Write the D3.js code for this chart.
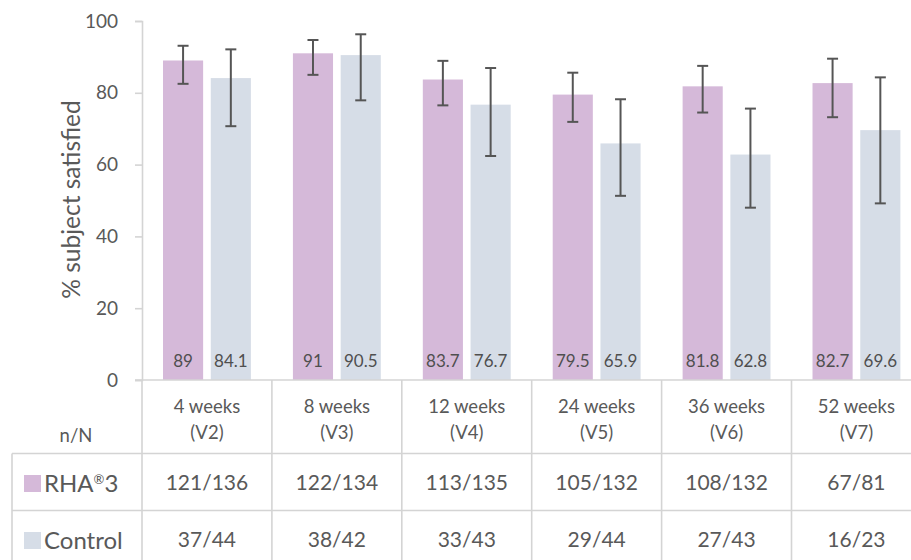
<!DOCTYPE html>
<html>
<head>
<meta charset="utf-8">
<script src="https://cdn.jsdelivr.net/npm/d3@7"></script>
<style>
  html, body { margin: 0; padding: 0; background: #fff; }
  svg { display: block; font-family: Lato, "Open Sans", sans-serif; }
</style>
</head>
<body>
<svg id="chart" width="911" height="560"></svg>
<script>
// Visit time points
const categories = ["4 weeks", "8 weeks", "12 weeks", "24 weeks", "36 weeks", "52 weeks"];
const visits = ["(V2)", "(V3)", "(V4)", "(V5)", "(V6)", "(V7)"];
const seriesNames = ["RHA", "Control"];

// % subjects satisfied
const rhaValues = [89, 91, 83.7, 79.5, 81.8, 82.7];
const controlValues = [84.1, 90.5, 76.7, 65.9, 62.8, 69.6];

// 95% CI bounds
const rhaLow = [82.5, 85.0, 76.5, 71.9, 74.5, 73.2];
const rhaHigh = [93.1, 94.7, 88.9, 85.6, 87.5, 89.5];
const controlLow = [70.7, 77.9, 62.4, 51.3, 48.0, 49.2];
const controlHigh = [92.1, 96.3, 86.9, 78.2, 75.6, 84.3];

// n/N table rows
const rhaCounts = ["121/136", "122/134", "113/135", "105/132", "108/132", "67/81"];
const controlCounts = ["37/44", "38/42", "33/43", "29/44", "27/43", "16/23"];

const yTicks = [0, 20, 40, 60, 80, 100];

const colors = { RHA: "#d5b9d9", Control: "#d6dde7" };
const textGray = "#595959";
const lineGray = "#d4d4d4";

const svg = d3.select("#chart");

const plotLeft = 142, plotTop = 21, plotBottom = 380;
const bandStep = 129.9;
const x0 = d3.scaleBand()
  .domain(categories)
  .range([plotLeft, plotLeft + bandStep * categories.length])
  .padding(0);
const x1 = d3.scaleBand()
  .domain(seriesNames)
  .range([0, x0.bandwidth()])
  .paddingInner(0.16)
  .paddingOuter(0.44);
const y = d3.scaleLinear().domain([0, 100]).range([plotBottom, plotTop]);

const rows = categories.map((c, i) => ({
  cat: c,
  bars: [
    { s: "RHA", v: rhaValues[i], lo: rhaLow[i], hi: rhaHigh[i] },
    { s: "Control", v: controlValues[i], lo: controlLow[i], hi: controlHigh[i] }
  ]
}));

// Y axis
const yAxis = d3.axisLeft(y).tickValues(yTicks).tickSize(7).tickPadding(17);
const yG = svg.append("g").attr("transform", `translate(${plotLeft},0)`).call(yAxis);
yG.select(".domain").attr("stroke", lineGray).attr("stroke-width", 1.6);
yG.selectAll(".tick line").attr("stroke", lineGray).attr("stroke-width", 1.6);
yG.selectAll(".tick text")
  .attr("fill", textGray)
  .style("font-family", "Lato, sans-serif")
  .style("font-size", "19px");

svg.append("text")
  .attr("transform", `translate(80,${(plotTop + plotBottom) / 2 - 1}) rotate(-90)`)
  .attr("text-anchor", "middle")
  .attr("fill", textGray)
  .style("font-size", "24.5px")
  .text("% subject satisfied");

// Bars
const groups = svg.append("g").selectAll("g")
  .data(rows)
  .join("g")
  .attr("transform", d => `translate(${x0(d.cat)},0)`);

groups.selectAll("rect")
  .data(d => d.bars)
  .join("rect")
  .attr("x", d => x1(d.s))
  .attr("y", d => y(d.v))
  .attr("width", x1.bandwidth())
  .attr("height", d => y(0) - y(d.v))
  .attr("fill", d => colors[d.s]);

// Value labels inside the bars
groups.selectAll("text.val")
  .data(d => d.bars)
  .join("text")
  .attr("class", "val")
  .attr("x", d => x1(d.s) + x1.bandwidth() / 2)
  .attr("y", 367)
  .attr("text-anchor", "middle")
  .attr("fill", "#4f4f4f")
  .style("font-size", "17px")
  .text(d => d.v);

// Error bars
const capHalf = 5.5;
const eb = groups.selectAll("g.err")
  .data(d => d.bars)
  .join("g")
  .attr("class", "err")
  .attr("stroke", "#555")
  .attr("stroke-width", 2);
eb.append("line")
  .attr("x1", d => x1(d.s) + x1.bandwidth() / 2)
  .attr("x2", d => x1(d.s) + x1.bandwidth() / 2)
  .attr("y1", d => y(d.lo))
  .attr("y2", d => y(d.hi));
eb.append("line")
  .attr("x1", d => x1(d.s) + x1.bandwidth() / 2 - capHalf)
  .attr("x2", d => x1(d.s) + x1.bandwidth() / 2 + capHalf)
  .attr("y1", d => y(d.hi)).attr("y2", d => y(d.hi));
eb.append("line")
  .attr("x1", d => x1(d.s) + x1.bandwidth() / 2 - capHalf)
  .attr("x2", d => x1(d.s) + x1.bandwidth() / 2 + capHalf)
  .attr("y1", d => y(d.lo)).attr("y2", d => y(d.lo));

// Data table below the axis
const tableLeft = 12;
const rowY = [plotBottom, 453.5, 510.5, 567];
const tableRight = x0.range()[1];
const grid = svg.append("g").attr("stroke", lineGray).attr("stroke-width", 1.6);
grid.append("line").attr("x1", plotLeft - 7).attr("x2", tableRight).attr("y1", rowY[0]).attr("y2", rowY[0]);
[rowY[1], rowY[2], rowY[3]].forEach(yy =>
  grid.append("line").attr("x1", tableLeft).attr("x2", tableRight).attr("y1", yy).attr("y2", yy));
grid.append("line").attr("x1", tableLeft).attr("x2", tableLeft).attr("y1", rowY[1]).attr("y2", rowY[3]);
categories.forEach(c =>
  grid.append("line").attr("x1", x0(c)).attr("x2", x0(c)).attr("y1", rowY[0]).attr("y2", rowY[3]));
grid.append("line").attr("x1", tableRight).attr("x2", tableRight).attr("y1", rowY[0]).attr("y2", rowY[3]);

const header = svg.append("g").attr("fill", textGray).style("font-size", "18.5px").attr("text-anchor", "middle");
categories.forEach((c, i) => {
  const cx = x0(c) + x0.bandwidth() / 2;
  header.append("text").attr("x", cx).attr("y", 413).text(c);
  header.append("text").attr("x", cx).attr("y", 439).text(visits[i]);
});
header.append("text").attr("x", 76).attr("y", 442).text("n/N");

const cells = svg.append("g").attr("fill", textGray).style("font-size", "21px").attr("text-anchor", "middle");
categories.forEach((c, i) => {
  const cx = x0(c) + x0.bandwidth() / 2;
  cells.append("text").attr("x", cx).attr("y", 490).text(rhaCounts[i]);
  cells.append("text").attr("x", cx).attr("y", 547).text(controlCounts[i]);
});

// Row legends
const legend = svg.append("g");
legend.append("rect").attr("x", 24).attr("y", 475).attr("width", 17).attr("height", 17).attr("fill", colors.RHA);
legend.append("rect").attr("x", 24).attr("y", 532).attr("width", 17).attr("height", 17).attr("fill", colors.Control);
const rhaLabel = legend.append("text").attr("x", 44).attr("y", 491.5).attr("fill", textGray).style("font-size", "24px");
rhaLabel.append("tspan").text("RHA");
rhaLabel.append("tspan").attr("dy", -8).style("font-size", "13px").text("®");
rhaLabel.append("tspan").attr("dy", 8).text("3");
legend.append("text").attr("x", 44).attr("y", 548.5).attr("fill", textGray).style("font-size", "24px").text("Control");
</script>
</body>
</html>
